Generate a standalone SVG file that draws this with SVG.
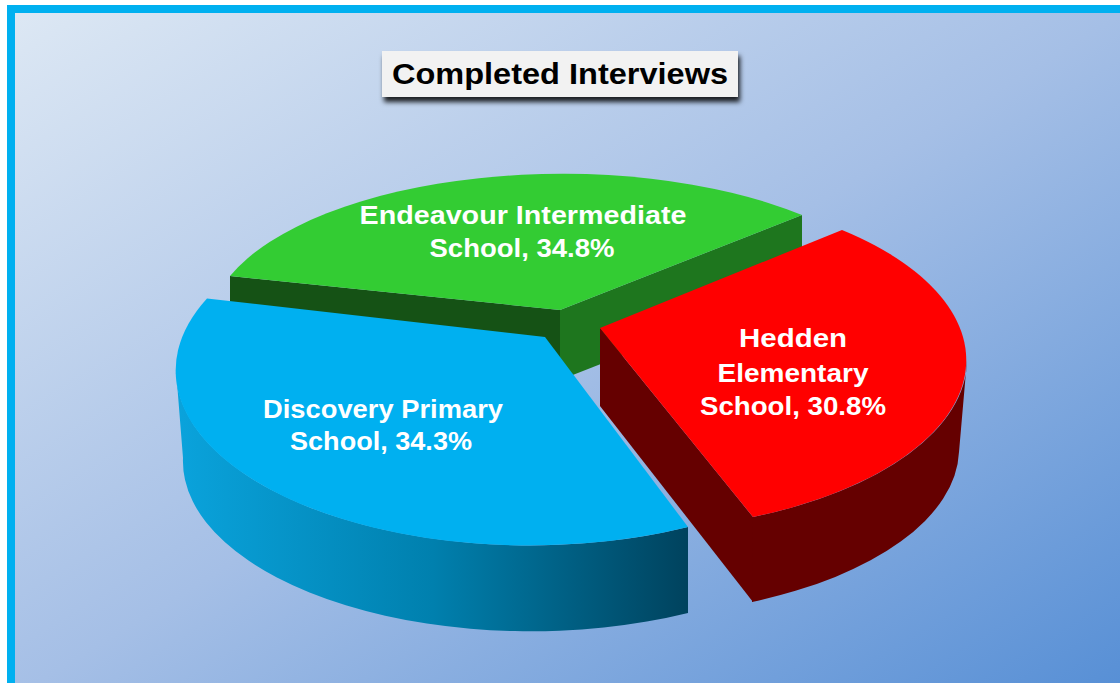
<svg xmlns="http://www.w3.org/2000/svg" width="1120" height="683" viewBox="0 0 1120 683">
  <defs>
    <linearGradient id="bg" x1="0" y1="0" x2="1" y2="1">
      <stop offset="0" stop-color="#dde8f4"/>
      <stop offset="0.5" stop-color="#a5bfe6"/>
      <stop offset="1" stop-color="#558ed5"/>
    </linearGradient>
    <linearGradient id="blueSide" gradientUnits="userSpaceOnUse" x1="176" y1="0" x2="690" y2="0">
      <stop offset="0" stop-color="#0aa3dc"/>
      <stop offset="0.5" stop-color="#0080ae"/>
      <stop offset="1" stop-color="#00425d"/>
    </linearGradient>
    <filter id="shadow" x="-10%" y="-30%" width="120%" height="180%">
      <feDropShadow dx="2" dy="5" stdDeviation="2.5" flood-color="#000" flood-opacity="0.85"/>
    </filter>
  </defs>
  <style>
    .lbl { font-family: "Liberation Sans", Arial, sans-serif; font-weight: bold; font-size: 26px; fill: #ffffff; text-anchor: middle; }
    .title { font-family: "Liberation Sans", Arial, sans-serif; font-weight: bold; font-size: 29px; fill: #000000; text-anchor: middle; }
  </style>

  <rect x="0" y="0" width="1120" height="683" fill="#ffffff"/>
  <rect id="frame" x="11" y="9" width="1120" height="690" fill="url(#bg)" stroke="#00b0f0" stroke-width="8"/>

  <g id="title">
    <rect x="382" y="51" width="356" height="46" fill="#f2f2f2" filter="url(#shadow)"/>
    <text class="title" x="560" y="84" textLength="336" lengthAdjust="spacingAndGlyphs">Completed Interviews</text>
  </g>

  <g id="endeavour">
    <path d="M230,276 L560,310 L560,380 L230,346 Z" fill="#155215"/>
    <path d="M560,310 L802,215 L802,285 L560,380 Z" fill="#1e761e"/>
    <path d="M230,276 A354,156 0 0,1 802,215 L560,310 Z" fill="#33cc33"/>
    <text class="lbl" x="523" y="224" textLength="327" lengthAdjust="spacingAndGlyphs">Endeavour Intermediate</text>
    <text class="lbl" x="522" y="257" textLength="185" lengthAdjust="spacingAndGlyphs">School, 34.8%</text>
  </g>

  <g id="hedden">
    <path d="M600,328 L753,517 L753,602 L600,406 Z" fill="#650000"/>
    <path d="M967,360 A354,171 0 0,1 753,517 L752,602 A348,168 0 0,0 959,452 Z" fill="#650000"/>
    <path d="M842,230 A354,171 0 0,1 753,517 L600,328 Z" fill="#ff0000"/>
    <text class="lbl" x="793" y="347" textLength="108" lengthAdjust="spacingAndGlyphs">Hedden</text>
    <text class="lbl" x="793" y="382" textLength="151" lengthAdjust="spacingAndGlyphs">Elementary</text>
    <text class="lbl" x="793" y="415" textLength="186" lengthAdjust="spacingAndGlyphs">School, 30.8%</text>
  </g>

  <g id="discovery">
    <path d="M176,370 A354,175 0 0,0 688,527 L688,613 A348,170 0 0,1 183,458 Z" fill="url(#blueSide)"/>
    <path d="M207,298.5 A354,175 0 0,0 688,527 L545,337 Z" fill="#00b0f0"/>
    <text class="lbl" x="383" y="418" textLength="240" lengthAdjust="spacingAndGlyphs">Discovery Primary</text>
    <text class="lbl" x="381" y="450" textLength="182" lengthAdjust="spacingAndGlyphs">School, 34.3%</text>
  </g>
</svg>
